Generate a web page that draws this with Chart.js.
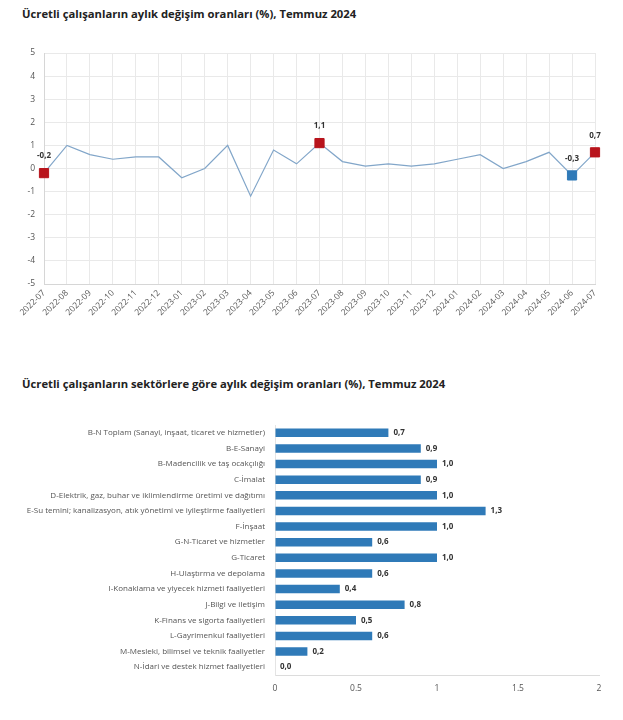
<!DOCTYPE html>
<html lang="tr">
<head>
<meta charset="utf-8">
<title>Ücretli çalışanlar</title>
<script src="https://cdn.jsdelivr.net/npm/chart.js@4.4.1/dist/chart.umd.min.js"></script>
<style>
    body { margin: 0; background: #fff; font-family: "Open Sans", "Noto Sans", sans-serif; }
    .baslik { position: absolute; left: 22px; font-size: 11.25px; font-weight: bold; color: #222; white-space: nowrap; }
    .kutu { position: absolute; left: 0; width: 623px; }
</style>
</head>
<body>
<div class="baslik" style="top: 6px;">Ücretli çalışanların aylık değişim oranları (%), Temmuz 2024</div>
<div class="kutu" style="top: 30px; height: 300px;"><canvas id="aylikChart"></canvas></div>

<div class="baslik" style="top: 376px;">Ücretli çalışanların sektörlere göre aylık değişim oranları (%), Temmuz 2024</div>
<div class="kutu" style="top: 400px; height: 310px;"><canvas id="sektorChart"></canvas></div>

<script>
const aylar = ["2022-07", "2022-08", "2022-09", "2022-10", "2022-11", "2022-12",
    "2023-01", "2023-02", "2023-03", "2023-04", "2023-05", "2023-06",
    "2023-07", "2023-08", "2023-09", "2023-10", "2023-11", "2023-12",
    "2024-01", "2024-02", "2024-03", "2024-04", "2024-05", "2024-06", "2024-07"];
const aylikDegisim = [-0.2, 1.0, 0.6, 0.4, 0.5, 0.5,
    -0.4, 0.0, 1.0, -1.2, 0.8, 0.2,
    1.1, 0.3, 0.1, 0.2, 0.1, 0.2,
    0.4, 0.6, 0.0, 0.3, 0.7, -0.3, 0.7];
// isaretli noktalar (kirmizi / mavi)
const isaretliAylar = ["2022-07", "2023-07", "2024-06", "2024-07"];
const isaretRenkleri = ["#b8141c", "#b8141c", "#2f7ab8", "#b8141c"];
const yEkseniTikleri = [-5, -4, -3, -2, -1, 0, 1, 2, 3, 4, 5];

const sektorler = [
    "B-N Toplam (Sanayi, inşaat, ticaret ve hizmetler)",
    "B-E-Sanayi",
    "B-Madencilik ve taş ocakçılığı",
    "C-İmalat",
    "D-Elektrik, gaz, buhar ve iklimlendirme üretimi ve dağıtımı",
    "E-Su temini; kanalizasyon, atık yönetimi ve iyileştirme faaliyetleri",
    "F-İnşaat",
    "G-N-Ticaret ve hizmetler",
    "G-Ticaret",
    "H-Ulaştırma ve depolama",
    "I-Konaklama ve yiyecek hizmeti faaliyetleri",
    "J-Bilgi ve iletişim",
    "K-Finans ve sigorta faaliyetleri",
    "L-Gayrimenkul faaliyetleri",
    "M-Mesleki, bilimsel ve teknik faaliyetler",
    "N-İdari ve destek hizmet faaliyetleri"];
const sektorDegisim = [0.7, 0.9, 1.0, 0.9, 1.0, 1.3, 1.0, 0.6, 1.0, 0.6, 0.4, 0.8, 0.5, 0.6, 0.2, 0.0];
const xEkseniTikleri = [0, 0.5, 1, 1.5, 2];

const fontAdi = '"Open Sans", "Noto Sans", sans-serif';

function virgullu(v) {
    return v.toFixed(1).replace(".", ",");
}

const noktaYaricap = aylar.map(a => isaretliAylar.includes(a) ? 6.5 : 0);
const noktaRenk = aylar.map(a => {
    const i = isaretliAylar.indexOf(a);
    return i >= 0 ? isaretRenkleri[i] : "rgba(0,0,0,0)";
});

const noktaEtiketleri = {
    id: "noktaEtiketleri",
    afterDatasetsDraw(chart) {
        const ctx = chart.ctx;
        const meta = chart.getDatasetMeta(0);
        ctx.save();
        ctx.font = "bold 8px " + fontAdi;
        ctx.fillStyle = "#333";
        ctx.textAlign = "center";
        ctx.textBaseline = "middle";
        meta.data.forEach((p, i) => {
            if (!isaretliAylar.includes(aylar[i])) return;
            ctx.fillText(virgullu(aylikDegisim[i]), p.x, p.y - 17);
        });
        ctx.restore();
    }
};

const cubukEtiketleri = {
    id: "cubukEtiketleri",
    afterDatasetsDraw(chart) {
        const ctx = chart.ctx;
        const meta = chart.getDatasetMeta(0);
        ctx.save();
        ctx.font = "bold 8px " + fontAdi;
        ctx.fillStyle = "#333";
        ctx.textAlign = "left";
        ctx.textBaseline = "middle";
        meta.data.forEach((bar, i) => {
            ctx.fillText(virgullu(sektorDegisim[i]), bar.x + 5, bar.y);
        });
        ctx.restore();
    }
};

new Chart(document.getElementById("aylikChart"), {
    type: "line",
    data: {
        labels: aylar,
        datasets: [{
            data: aylikDegisim,
            borderColor: "#82a6c9",
            borderWidth: 1.2,
            tension: 0,
            pointStyle: "rect",
            pointRadius: noktaYaricap,
            pointHoverRadius: noktaYaricap,
            pointBackgroundColor: noktaRenk,
            pointBorderColor: noktaRenk,
            pointBorderWidth: 1
        }]
    },
    options: {
        responsive: true,
        maintainAspectRatio: false,
        animation: false,
        layout: { padding: { left: 0, right: 28, top: 23, bottom: 0 } },
        plugins: { legend: { display: false }, tooltip: { enabled: false } },
        scales: {
            x: {
                grid: { color: "#e9e9e9", drawTicks: false },
                border: { color: "#d6d6d6" },
                ticks: {
                    color: "#555", font: { size: 8.5, family: fontAdi },
                    minRotation: 45, maxRotation: 45, autoSkip: false, padding: 4
                },
                afterFit(scale) { scale.height = 46; }
            },
            y: {
                min: -5, max: 5,
                afterBuildTicks(scale) { scale.ticks = yEkseniTikleri.map(v => ({ value: v })); },
                grid: { color: "#e9e9e9", drawTicks: false },
                border: { color: "#d6d6d6" },
                ticks: { color: "#555", font: { size: 8.5, family: fontAdi }, padding: 9 },
                afterFit(scale) { scale.width = 44; }
            }
        }
    },
    plugins: [noktaEtiketleri]
});

new Chart(document.getElementById("sektorChart"), {
    type: "bar",
    data: {
        labels: sektorler,
        datasets: [{
            data: sektorDegisim,
            backgroundColor: "#2f7ab8",
            categoryPercentage: 0.55,
            barPercentage: 1
        }]
    },
    options: {
        indexAxis: "y",
        responsive: true,
        maintainAspectRatio: false,
        animation: false,
        layout: { padding: { left: 0, right: 24, top: 25, bottom: 0 } },
        plugins: { legend: { display: false }, tooltip: { enabled: false } },
        scales: {
            x: {
                min: 0, max: 2,
                afterBuildTicks(scale) { scale.ticks = xEkseniTikleri.map(v => ({ value: v })); },
                grid: { display: true, drawOnChartArea: false, drawTicks: false },
                border: { color: "#dcdcdc" },
                ticks: {
                    color: "#555", font: { size: 8.5, family: fontAdi }, padding: 8,
                    callback: v => String(v)
                },
                afterFit(scale) { scale.height = 35; }
            },
            y: {
                grid: { display: true, drawOnChartArea: false, drawTicks: false },
                border: { color: "#e4e4e4" },
                ticks: { color: "#555", font: { size: 8, family: fontAdi }, padding: 10, autoSkip: false },
                afterFit(scale) { scale.width = 275; }
            }
        }
    },
    plugins: [cubukEtiketleri]
});
</script>
</body>
</html>
